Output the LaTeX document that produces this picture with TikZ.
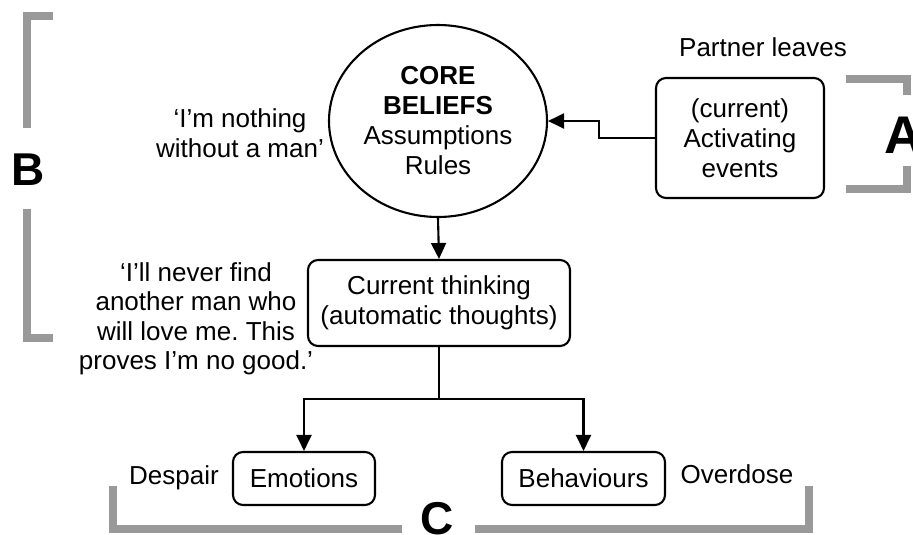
\documentclass[tikz,border=0pt]{standalone}
\usepackage{fontspec}
\setmainfont{Liberation Sans}
\usetikzlibrary{arrows.meta, shapes.geometric, positioning}
\definecolor{bracketgrey}{RGB}{153,153,153}
\frenchspacing

\begin{document}
\begin{tikzpicture}[x=1pt, y=-1pt,
    txt/.style={font=\fontsize{26}{30}\selectfont, inner sep=0pt},
    box/.style={txt, draw, line width=2.1pt, rounded corners=10pt, align=center},
    flow/.style={line width=2.1pt, -{Triangle[width=15pt, length=16pt]}},
    bracket/.style={draw=bracketgrey, line width=8pt},
    letter/.style={font=\fontsize{46}{46}\selectfont\bfseries, inner sep=0pt, anchor=base}]
    \useasboundingbox (0, 0) rectangle (913, 535);

    \node[txt, draw, ellipse, line width=2.1pt, minimum width=218pt, minimum height=192pt, align=center] (core) at (438, 121)
        {\textbf{CORE}\\\textbf{BELIEFS}\\Assumptions\\Rules};
    \node[box, minimum width=168pt, minimum height=120pt] (events) at (740, 138) {(current)\\Activating\\events};
    \node[box, minimum width=262pt, minimum height=86pt] (thinking) at (439, 303) {Current thinking\\(automatic thoughts)};
    \node[box, minimum width=142pt, minimum height=53pt] (emotions) at (304, 478.5) {Emotions};
    \node[box, minimum width=163pt, minimum height=53pt] (behaviours) at (583.5, 478.5) {Behaviours};

    \node[txt, anchor=base] (partner) at (763, 57) {Partner leaves};
    \node[txt, align=center] (nothing) at (240, 133) {‘I’m nothing\\without a man’};
    \node[txt, align=center, font=\fontsize{26}{29.5}\selectfont] (never) at (196, 319)
        {‘I’ll never find\\another man who\\will love me. This\\proves I’m no good.’};
    \node[txt, anchor=base] (despair) at (174, 484) {Despair};
    \node[txt, anchor=base] (overdose) at (737, 483) {Overdose};

    \draw[flow] (events.west) -- ++(-56, 0) |- (core.east);
    \draw[flow] (core.south) -- (thinking.north);
    \draw[flow] (thinking.south) -- ++(0, 52) -| (emotions.north);
    \draw[flow] (thinking.south) -- ++(0, 52) -| (behaviours.north);

    \draw[bracket] (53, 16.5) -- (26.5, 16.5) -- (26.5, 128);
    \draw[bracket] (26.5, 209) -- (26.5, 338) -- (53, 338);
    \node[letter] (B) at (28.5, 185) {B};

    \draw[bracket] (846, 79) -- (907, 79) -- (907, 95);
    \draw[bracket] (907, 166) -- (907, 189) -- (846, 189);
    \node[letter, font=\fontsize{53}{53}\selectfont\bfseries] (A) at (904, 153) {A};

    \draw[bracket] (113, 486) -- (113, 529) -- (402, 529);
    \draw[bracket] (475, 529) -- (809, 529) -- (809, 486);
    \node[letter] (C) at (437, 534) {C};
\end{tikzpicture}
\end{document}
